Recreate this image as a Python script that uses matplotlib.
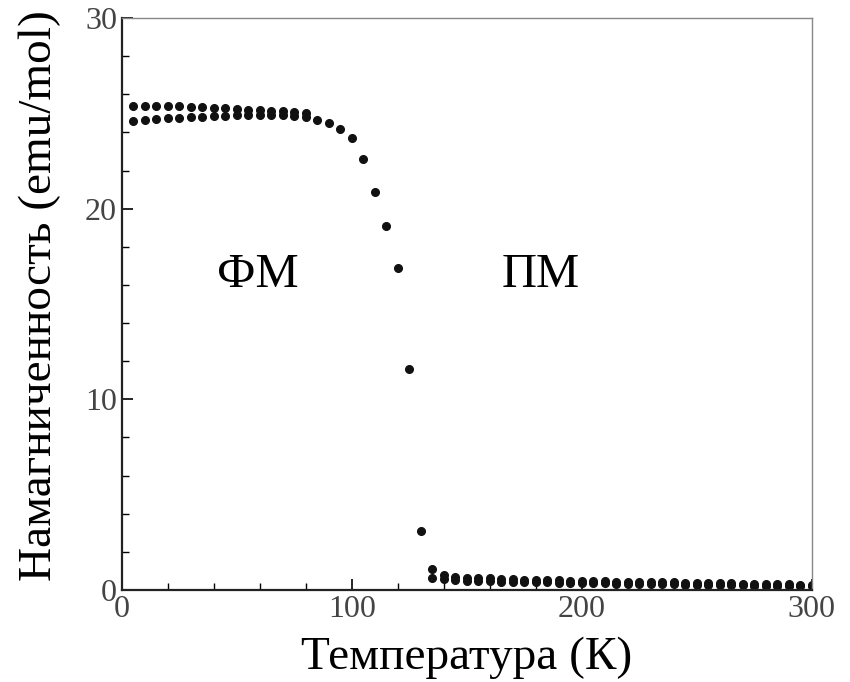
import matplotlib.pyplot as plt
from matplotlib.ticker import MultipleLocator

# Температура (К) и намагниченность (emu/mol)
t_main = [5, 10, 15, 20, 25, 30, 35, 40, 45, 50, 55, 60, 65, 70, 75, 80,
          85, 90, 95, 100, 105, 110, 115, 120, 125, 130,
          135, 140, 145, 150, 155, 160, 165, 170, 175, 180, 185, 190, 195, 200,
          205, 210, 215, 220, 225, 230, 235, 240, 245, 250, 255, 260, 265, 270,
          275, 280, 285, 290, 295, 300]
m_main = [24.6, 24.65, 24.7, 24.75, 24.75, 24.8, 24.8, 24.85, 24.85, 24.9, 24.9, 24.9, 24.9, 24.9, 24.85, 24.8,
          24.65, 24.5, 24.2, 23.7, 22.6, 20.9, 19.1, 16.9, 11.6, 3.1,
          0.6, 0.55, 0.5, 0.48, 0.46, 0.45, 0.44, 0.42, 0.41, 0.4, 0.39, 0.38, 0.37, 0.36,
          0.35, 0.34, 0.33, 0.33, 0.32, 0.31, 0.3, 0.29, 0.28, 0.27, 0.26, 0.26, 0.25, 0.24,
          0.23, 0.22, 0.21, 0.2, 0.19, 0.18]

t_fc = [5, 10, 15, 20, 25, 30, 35, 40, 45, 50, 55, 60, 65, 70, 75, 80,
        135, 140, 145, 150, 155, 160, 165, 170, 175, 180, 185, 190, 195, 200,
        205, 210, 215, 220, 225, 230, 235, 240, 245, 250, 255, 260, 265, 270,
        275, 280, 285, 290, 295, 300]
m_fc = [25.4, 25.4, 25.4, 25.4, 25.4, 25.35, 25.35, 25.3, 25.3, 25.25, 25.2, 25.2, 25.15, 25.1, 25.05, 25.0,
        1.1, 0.8, 0.7, 0.65, 0.62, 0.6, 0.58, 0.56, 0.54, 0.52, 0.5, 0.5, 0.48, 0.47,
        0.46, 0.45, 0.44, 0.43, 0.42, 0.41, 0.4, 0.39, 0.38, 0.37, 0.36, 0.35, 0.34, 0.33,
        0.32, 0.31, 0.3, 0.29, 0.28, 0.27]

plt.rcParams['font.family'] = ['Liberation Serif', 'DejaVu Serif']

fig = plt.figure(figsize=(8.5, 6.82), dpi=100)
ax = fig.add_axes([0.1435, 0.135, 0.8115, 0.8385])

ax.plot(t_main, m_main, linestyle='none', marker='o', markersize=5.5, color='#111111')
ax.plot(t_fc, m_fc, linestyle='none', marker='o', markersize=5.5, color='#111111')

ax.text(59, 16.5, 'ФМ', fontsize=35, ha='center', va='center')
ax.text(182, 16.5, 'ПМ', fontsize=35, ha='center', va='center')

ax.set_xlim(0, 300)
ax.set_ylim(0, 30)
ax.xaxis.set_major_locator(MultipleLocator(100))
ax.xaxis.set_minor_locator(MultipleLocator(20))
ax.yaxis.set_major_locator(MultipleLocator(10))
ax.yaxis.set_minor_locator(MultipleLocator(2))
ax.tick_params(which='both', direction='in', top=False, right=False,
               labelsize=23, labelcolor='#444444')
ax.tick_params(which='major', length=8, width=1.2)
ax.tick_params(which='minor', length=5, width=1)

for s in ['left', 'bottom']:
    ax.spines[s].set_linewidth(1.6)
    ax.spines[s].set_color('#222222')
for s in ['top', 'right']:
    ax.spines[s].set_linewidth(1.0)
    ax.spines[s].set_color('#888888')

ax.set_xlabel('Температура (К)', fontsize=34)
ax.set_ylabel('Намагниченность (emu/mol)', fontsize=34)
ax.xaxis.set_label_coords(0.5, -0.082)
ax.yaxis.set_label_coords(-0.088, 0.515)

fig.savefig('out.png', dpi=100)
